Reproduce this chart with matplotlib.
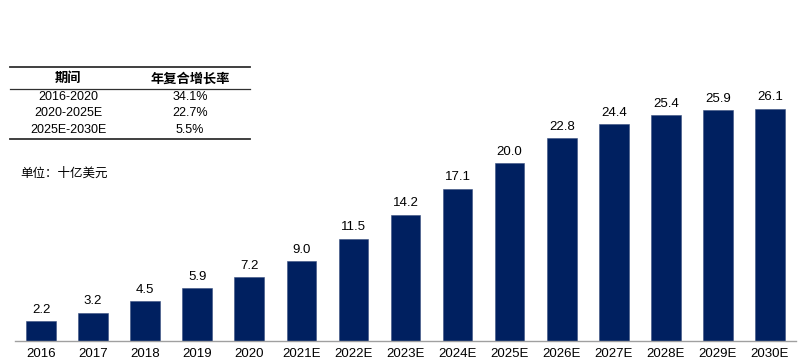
import matplotlib
matplotlib.use('Agg')
from matplotlib import pyplot as plt
from matplotlib.lines import Line2D

plt.rcParams['font.family'] = ['Liberation Sans', 'Noto Sans CJK SC', 'DejaVu Sans']

years = ['2016', '2017', '2018', '2019', '2020', '2021E', '2022E', '2023E',
         '2024E', '2025E', '2026E', '2027E', '2028E', '2029E', '2030E']
values = [2.2, 3.2, 4.5, 5.9, 7.2, 9.0, 11.5, 14.2, 17.1, 20.0, 22.8, 24.4, 25.4, 25.9, 26.1]

table_header = ['期间', '年复合增长率']
table_periods = ['2016-2020', '2020-2025E', '2025E-2030E']
table_cagr = ['34.1%', '22.7%', '5.5%']
unit_text = '单位：十亿美元'

BAR_COLOR = '#002060'
W, H = 807, 363

fig = plt.figure(figsize=(W / 100, H / 100), dpi=100)
ax = fig.add_axes([15 / W, 1 - 341 / H, (796 - 15) / W, (341 - 74) / H])

x = range(len(years))
ax.bar(x, values, width=0.57, color=BAR_COLOR, edgecolor='#3a5080', linewidth=0.4)
for i, v in zip(x, values):
    ax.text(i, v + 0.6, '{:.1f}'.format(v), ha='center', va='bottom', fontsize=9.5)

ax.set_xlim(-0.5, 14.5)
ax.set_ylim(0, 30)
ax.set_xticks(list(x))
ax.set_xticklabels(years, fontsize=9.5)
ax.tick_params(axis='x', length=0, pad=5)
ax.set_yticks([])
for s in ['top', 'right', 'left']:
    ax.spines[s].set_visible(False)
ax.spines['bottom'].set_color('#a0a0a0')
ax.spines['bottom'].set_linewidth(1.0)

# CAGR table
def fx(px):
    return px / W

def fy(py):
    return 1 - py / H

for py, lw in [(67, 1.3), (89, 0.9), (139, 1.3)]:
    fig.add_artist(Line2D([fx(10), fx(250)], [fy(py), fy(py)], color='#303030', linewidth=lw))

col_x = [fx(68), fx(190)]
fig.text(col_x[0], fy(79), table_header[0], ha='center', va='center', fontsize=9.5, fontweight='bold')
fig.text(col_x[1], fy(79), table_header[1], ha='center', va='center', fontsize=9.5, fontweight='bold')
for row, (p, c) in enumerate(zip(table_periods, table_cagr)):
    yy = fy(97 + row * 16.5)
    fig.text(col_x[0], yy, p, ha='center', va='center', fontsize=9)
    fig.text(col_x[1], yy, c, ha='center', va='center', fontsize=9)

fig.text(fx(20), fy(174), unit_text, ha='left', va='center', fontsize=9)

fig.savefig('out.png', dpi=100)
